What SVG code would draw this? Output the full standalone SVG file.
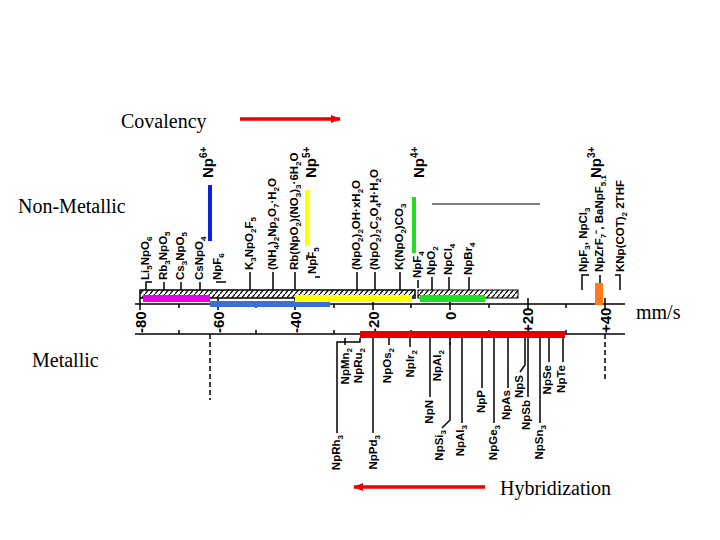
<svg xmlns="http://www.w3.org/2000/svg" width="720" height="540" viewBox="0 0 720 540">
<defs>
<pattern id="hatch" width="5" height="6" patternUnits="userSpaceOnUse"><path d="M0,6 L5,0" stroke="#000" stroke-width="1.3"/></pattern>
<marker id="ah" markerWidth="10" markerHeight="8" refX="9" refY="4" orient="auto" markerUnits="userSpaceOnUse"><path d="M0,0 L10,4 L0,8 Z" fill="#e00"/></marker>
<style>
.t{font-family:"Liberation Serif",serif;font-size:20px;fill:#000}
.l{font-family:"Liberation Sans",sans-serif;font-size:11.5px;font-weight:bold;fill:#000}
.s{font-size:8px;baseline-shift:-3px}
.n{font-family:"Liberation Sans",sans-serif;font-size:15px;font-weight:bold;fill:#000}
.k{stroke:#000;stroke-width:1.5;fill:none}
.d{stroke:#000;stroke-width:1.5;fill:none;stroke-dasharray:5,3}
.ra{stroke:#e00;stroke-width:3.5;fill:none}
</style>
</defs>
<rect width="720" height="540" fill="#fff"/>
<g id="titles">
<text class="t" x="121" y="128">Covalency</text>
<text class="t" x="18" y="213">Non-Metallic</text>
<text class="t" x="32" y="367">Metallic</text>
<text class="t" x="636" y="319">mm/s</text>
<text class="t" x="500" y="495">Hybridization</text>
</g>
<g id="connectors">
<line class="ra" x1="240" y1="119" x2="340" y2="119" marker-end="url(#ah)"/>
<line class="ra" x1="485" y1="487" x2="354" y2="487" marker-end="url(#ah)"/>
<line x1="432" y1="204" x2="540" y2="204" stroke="#000" stroke-width="1"/>
</g>
<g id="axis">
<rect x="140" y="290" width="275" height="8" fill="url(#hatch)" stroke="#000" stroke-width="1.5"/>
<rect x="418" y="290" width="100" height="8" fill="url(#hatch)" stroke="#000" stroke-width="1"/>
<line class="k" x1="135" y1="304" x2="625" y2="304"/>
<g class="k">
<line x1="140" y1="298" x2="140" y2="310"/><line x1="179" y1="304" x2="179" y2="308"/><line x1="218" y1="298" x2="218" y2="310"/><line x1="256" y1="304" x2="256" y2="308"/><line x1="295" y1="298" x2="295" y2="310"/><line x1="334" y1="304" x2="334" y2="308"/><line x1="373" y1="298" x2="373" y2="310"/><line x1="411" y1="304" x2="411" y2="308"/><line x1="450" y1="298" x2="450" y2="310"/><line x1="489" y1="304" x2="489" y2="308"/><line x1="528" y1="298" x2="528" y2="310"/><line x1="566" y1="304" x2="566" y2="308"/><line x1="605" y1="298" x2="605" y2="310"/>
</g>
<line class="k" x1="135" y1="334" x2="625" y2="334"/>
<g class="k">
<line x1="179" y1="330" x2="179" y2="334"/><line x1="256" y1="330" x2="256" y2="334"/><line x1="334" y1="330" x2="334" y2="334"/><line x1="411" y1="330" x2="411" y2="334"/><line x1="489" y1="330" x2="489" y2="334"/><line x1="566" y1="330" x2="566" y2="334"/>
</g>
<line class="d" x1="210" y1="334" x2="210" y2="400"/>
<line class="d" x1="605" y1="334" x2="605" y2="380"/>
<line class="d" x1="450" y1="334" x2="450" y2="345"/>
<g class="n">
<text transform="translate(146,333) rotate(-90)">-80</text>
<text transform="translate(224,333) rotate(-90)">-60</text>
<text transform="translate(301,333) rotate(-90)">-40</text>
<text transform="translate(379,333) rotate(-90)">-20</text>
<text transform="translate(456,320) rotate(-90)">0</text>
<text transform="translate(533,333) rotate(-90)">+20</text>
<text transform="translate(611,333) rotate(-90)">+40</text>
</g>
</g>
<g id="colorbars">
<rect x="143" y="295" width="67" height="7" fill="#e600e6"/>
<rect x="210" y="301" width="120" height="6" fill="#3a6fd8"/>
<rect x="295" y="295" width="117" height="7" fill="#ffff00"/>
<rect x="420" y="295" width="65" height="7" fill="#22dd22"/>
<rect x="595" y="283" width="8" height="22" fill="#ff7a1a"/>
<rect x="360" y="331" width="205" height="7" fill="#e00000"/>
<rect x="208" y="185" width="4" height="56" fill="#1020e0"/>
<rect x="305" y="190" width="4" height="56" fill="#ffff00"/>
<rect x="412" y="197" width="4" height="56" fill="#22dd22"/>
</g>
<g id="ions" class="n">
<text transform="translate(213,178) rotate(-90)">Np<tspan font-size="10" dy="-6">6+</tspan></text>
<text transform="translate(316,178) rotate(-90)">Np<tspan font-size="10" dy="-6">5+</tspan></text>
<text transform="translate(424,178) rotate(-90)">Np<tspan font-size="10" dy="-6">4+</tspan></text>
<text transform="translate(601,178) rotate(-90)">Np<tspan font-size="10" dy="-6">3+</tspan></text>
</g>
<g id="upper-labels" class="l">
<text transform="translate(149,280) rotate(-90)">Li<tspan class="s">5</tspan>NpO<tspan class="s">6</tspan></text>
<text transform="translate(167,280) rotate(-90)">Rb<tspan class="s">3</tspan>NpO<tspan class="s">5</tspan></text>
<text transform="translate(184,280) rotate(-90)">Cs<tspan class="s">3</tspan>NpO<tspan class="s">5</tspan></text>
<text transform="translate(203,280) rotate(-90)">CsNpO<tspan class="s">4</tspan></text>
<text transform="translate(221,280) rotate(-90)">NpF<tspan class="s">6</tspan></text>
<text transform="translate(253,270) rotate(-90)">K<tspan class="s">3</tspan>NpO<tspan class="s">2</tspan>F<tspan class="s">5</tspan></text>
<text transform="translate(276,270) rotate(-90)">(NH<tspan class="s">4</tspan>)<tspan class="s">2</tspan>Np<tspan class="s">2</tspan>O<tspan class="s">7</tspan>·H<tspan class="s">2</tspan>O</text>
<text transform="translate(298,270) rotate(-90)">Rb(NpO<tspan class="s">2</tspan>)(NO<tspan class="s">3</tspan>)<tspan class="s">3</tspan>·6H<tspan class="s">2</tspan>O</text>
<text transform="translate(316,274) rotate(-90)">NpF<tspan class="s">5</tspan></text>
<text transform="translate(360,270) rotate(-90)">(NpO<tspan class="s">2</tspan>)<tspan class="s">2</tspan>OH·xH<tspan class="s">2</tspan>O</text>
<text transform="translate(378,270) rotate(-90)">(NpO<tspan class="s">2</tspan>)<tspan class="s">2</tspan>C<tspan class="s">2</tspan>O<tspan class="s">4</tspan>H·H<tspan class="s">2</tspan>O</text>
<text transform="translate(403,270) rotate(-90)">K(NpO<tspan class="s">2</tspan>)CO<tspan class="s">3</tspan></text>
<text transform="translate(421,278) rotate(-90)">NpF<tspan class="s">4</tspan></text>
<text transform="translate(435,275) rotate(-90)">NpO<tspan class="s">2</tspan></text>
<text transform="translate(452,275) rotate(-90)">NpCl<tspan class="s">4</tspan></text>
<text transform="translate(472,275) rotate(-90)">NpBr<tspan class="s">4</tspan></text>
<text transform="translate(587,272) rotate(-90)">NpF<tspan class="s">3</tspan>, NpCl<tspan class="s">3</tspan></text>
<text transform="translate(603,272) rotate(-90)">NpZrF<tspan class="s">7</tspan>⁻, BaNpF<tspan class="s">5.1</tspan></text>
<text transform="translate(624,272) rotate(-90)">KNp(COT)<tspan class="s">2</tspan> 2THF</text>
</g>
<g id="upper-leaders" class="k" stroke-width="1.2">
<path d="M146,290 V282 H152 M164,290 V282 M181,290 V282 M200,290 V282 M216,282 H226 M250,290 V272 M273,290 V272 M295,290 V272 M315,277 H320 M357,290 V272 M375,290 V272 M400,290 V272 M418,288 V280 M432,290 V277 M449,290 V277 M469,290 V277 M582,290 V275 H589 M600,283 V275 M620,290 V275 H615"/>
<line class="d" x1="307" y1="255" x2="307" y2="262"/>
</g>
<g id="lower-labels" class="l">
<text transform="translate(349,348) rotate(-90)" text-anchor="end">NpMn<tspan class="s">2</tspan></text>
<text transform="translate(362,348) rotate(-90)" text-anchor="end">NpRu<tspan class="s">2</tspan></text>
<text transform="translate(391,348) rotate(-90)" text-anchor="end">NpOs<tspan class="s">2</tspan></text>
<text transform="translate(414,350) rotate(-90)" text-anchor="end">NpIr<tspan class="s">2</tspan></text>
<text transform="translate(441,350) rotate(-90)" text-anchor="end">NpAl<tspan class="s">2</tspan></text>
<text transform="translate(433,400) rotate(-90)" text-anchor="end">NpN</text>
<text transform="translate(485,390) rotate(-90)" text-anchor="end">NpP</text>
<text transform="translate(510,390) rotate(-90)" text-anchor="end">NpAs</text>
<text transform="translate(523,375) rotate(-90)" text-anchor="end">NpS</text>
<text transform="translate(530,400) rotate(-90)" text-anchor="end">NpSb</text>
<text transform="translate(551,365) rotate(-90)" text-anchor="end">NpSe</text>
<text transform="translate(565,365) rotate(-90)" text-anchor="end">NpTe</text>
<text transform="translate(340,435) rotate(-90)" text-anchor="end">NpRh<tspan class="s">3</tspan></text>
<text transform="translate(377,435) rotate(-90)" text-anchor="end">NpPd<tspan class="s">3</tspan></text>
<text transform="translate(443,430) rotate(-90)" text-anchor="end">NpSi<tspan class="s">3</tspan></text>
<text transform="translate(464,425) rotate(-90)" text-anchor="end">NpAl<tspan class="s">3</tspan></text>
<text transform="translate(497,425) rotate(-90)" text-anchor="end">NpGe<tspan class="s">3</tspan></text>
<text transform="translate(543,425) rotate(-90)" text-anchor="end">NpSn<tspan class="s">3</tspan></text>
</g>
<g id="lower-leaders" class="k" stroke-width="1.2">
<path d="M337,433 V342 H360 V338 M345,345 V338 M373,433 V338 M389,345 V338 M410,347 V338 M430,397 V338 M450,338 V420 L442,428 M462,423 V338 M482,388 V338 M494,423 V338 M508,388 V338 M525,338 V365 L520,372 M528,397 V338 M540,423 V338 M549,362 V338 M563,362 V338"/>
</g>
</svg>
